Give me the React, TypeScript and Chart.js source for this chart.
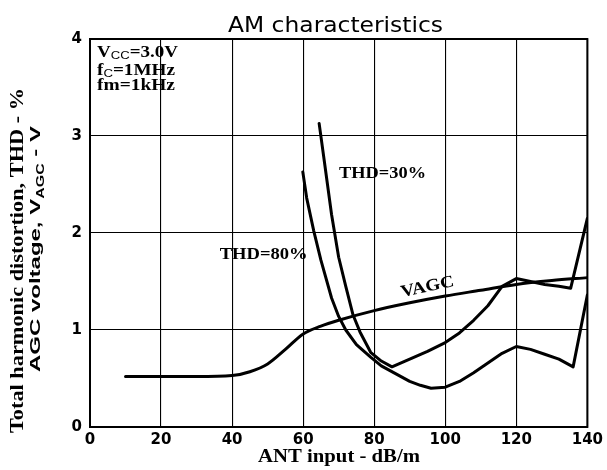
import React, { useEffect, useRef } from "react";
import { Chart, registerables } from "chart.js";

Chart.register(...registerables);

// ---- data ----
const xTickValues = [0, 20, 40, 60, 80, 100, 120, 140];
const yTickValues = [0, 1, 2, 3, 4];

const vagcX = [10, 20, 30, 40, 45, 50, 55, 60, 65, 70, 80, 90, 100, 110, 120, 130, 140];
const vagcY = [0.52, 0.52, 0.52, 0.53, 0.57, 0.65, 0.8, 0.96, 1.04, 1.1, 1.2, 1.28, 1.35, 1.41, 1.47, 1.51, 1.54];

const thd30X = [64.5, 66, 68, 70, 72, 74, 76, 79, 82, 85, 90, 95, 100, 104, 108, 112, 116, 120, 124, 128, 132, 135.3, 140];
const thd30Y = [3.13, 2.73, 2.19, 1.75, 1.45, 1.16, 0.98, 0.77, 0.68, 0.62, 0.7, 0.78, 0.87, 0.97, 1.1, 1.25, 1.45, 1.53, 1.5, 1.47, 1.45, 1.43, 2.15];

const thd80X = [59.9, 61, 63, 65, 68, 70, 72, 75, 79, 82, 86, 90, 93, 96, 100, 104, 108, 112, 116, 120, 124, 128, 132, 136, 140];
const thd80Y = [2.63, 2.36, 2.02, 1.72, 1.33, 1.14, 1.0, 0.85, 0.72, 0.63, 0.55, 0.47, 0.43, 0.4, 0.41, 0.47, 0.56, 0.66, 0.76, 0.83, 0.8, 0.75, 0.7, 0.62, 1.36];

const chartTitle = "AM characteristics";
const xTitle = "ANT input - dB/m";
const curveLabels = [
  { text: "THD=30%", x: 70.1, y: 2.57, angle: 0, width: 87 },
  { text: "THD=80%", x: 36.5, y: 1.73, angle: 0, width: 88 },
  { text: "VAGC", x: 87.8, y: 1.34, angle: -12, width: 54 },
];

const SERIF = '"Liberation Serif", "Times New Roman", serif';
const SANS = '"Liberation Sans", Arial, sans-serif';
const DEJAVU = '"DejaVu Sans", Verdana, sans-serif';

type Run = { t: string; font: string; dy?: number };

function drawRuns(
  ctx: CanvasRenderingContext2D,
  runs: Run[],
  x: number,
  y: number,
  width: number | null,
  align: "left" | "center",
  angle: number
) {
  ctx.save();
  let total = 0;
  const ws = runs.map((r) => {
    ctx.font = r.font;
    const w = ctx.measureText(r.t).width;
    total += w;
    return w;
  });
  ctx.translate(x, y);
  ctx.rotate(angle);
  const sx = width ? width / total : 1;
  ctx.scale(sx, 1);
  let cx = align === "center" ? -total / 2 : 0;
  ctx.textBaseline = "alphabetic";
  ctx.textAlign = "left";
  ctx.fillStyle = "#000";
  runs.forEach((r, i) => {
    ctx.font = r.font;
    ctx.fillText(r.t, cx, r.dy || 0);
    cx += ws[i];
  });
  ctx.restore();
}

const overlay = {
  id: "overlay",
  afterDraw(chart: any) {
    const ctx: CanvasRenderingContext2D = chart.ctx;
    const a = chart.chartArea;
    const xs = chart.scales.x;
    const ys = chart.scales.y;

    // frame
    ctx.save();
    ctx.strokeStyle = "#000";
    ctx.lineWidth = 2;
    ctx.strokeRect(a.left, a.top, a.right - a.left, a.bottom - a.top);
    ctx.restore();

    // title
    drawRuns(ctx, [{ t: chartTitle, font: `22px ${DEJAVU}` }], 335.5, 32, 215, "center", 0);

    // x title
    drawRuns(ctx, [{ t: xTitle, font: `bold 18px ${SERIF}` }], 339, 462, 162, "center", 0);

    // y title (two lines, rotated)
    drawRuns(
      ctx,
      [{ t: "Total harmonic distortion, THD - %", font: `bold 19px ${SERIF}` }],
      23,
      260.5,
      345,
      "center",
      -Math.PI / 2
    );
    drawRuns(
      ctx,
      [
        { t: "AGC voltage, V", font: `bold 15px ${SANS}` },
        { t: "AGC", font: `bold 10px ${SANS}`, dy: 4 },
        { t: " - V", font: `bold 15px ${SANS}` },
      ],
      40,
      249,
      246,
      "center",
      -Math.PI / 2
    );

    // condition note
    const nx = a.left + 7;
    drawRuns(
      ctx,
      [
        { t: "V", font: `bold 16px ${SERIF}` },
        { t: "CC", font: `11px ${SANS}`, dy: 2 },
        { t: "=3.0V", font: `bold 16px ${SERIF}` },
      ],
      nx,
      a.top + 18,
      81,
      "left",
      0
    );
    drawRuns(
      ctx,
      [
        { t: "f", font: `bold 16px ${SERIF}` },
        { t: "C", font: `11px ${SANS}`, dy: 2 },
        { t: "=1MHz", font: `bold 16px ${SERIF}` },
      ],
      nx,
      a.top + 36,
      78,
      "left",
      0
    );
    drawRuns(ctx, [{ t: "fm=1kHz", font: `bold 16px ${SERIF}` }], nx, a.top + 51, 78, "left", 0);

    // curve labels
    curveLabels.forEach((l) => {
      const px = xs.getPixelForValue(l.x);
      const py = ys.getPixelForValue(l.y);
      drawRuns(ctx, [{ t: l.text, font: `bold 17px ${SERIF}` }], px, py, l.width, "left", (l.angle * Math.PI) / 180);
    });
  },
};

function pts(xs: number[], ys: number[]) {
  return xs.map((x, i) => ({ x, y: ys[i] }));
}

export default function App() {
  const ref = useRef<HTMLCanvasElement | null>(null);

  useEffect(() => {
    document.body.style.margin = "0";
    const canvas = ref.current!;
    const lineBase = {
      borderColor: "#000",
      borderWidth: 3,
      pointRadius: 0,
      borderJoinStyle: "round" as const,
      borderCapStyle: "round" as const,
      fill: false,
    };
    const chart = new Chart(canvas, {
      type: "line",
      data: {
        datasets: [
          { ...lineBase, label: "VAGC", data: pts(vagcX, vagcY), cubicInterpolationMode: "monotone" },
          { ...lineBase, label: "THD=30%", data: pts(thd30X, thd30Y), tension: 0 },
          { ...lineBase, label: "THD=80%", data: pts(thd80X, thd80Y), tension: 0 },
        ],
      },
      options: {
        animation: false,
        responsive: false,
        events: [],
        layout: { padding: { left: 0, top: 39, right: 18, bottom: 0 } },
        plugins: {
          legend: { display: false },
          title: { display: false },
          tooltip: { enabled: false },
        },
        scales: {
          x: {
            type: "linear",
            min: 0,
            max: 140,
            afterFit: (s: any) => {
              s.height = 43;
            },
            afterBuildTicks: (s: any) => {
              s.ticks = xTickValues.map((v) => ({ value: v }));
            },
            grid: { color: "#000", lineWidth: 1.1, drawTicks: false },
            border: { display: false },
            ticks: {
              padding: 4,
              color: "#000",
              font: { family: DEJAVU, size: 15, weight: "bold" },
              maxRotation: 0,
            },
          },
          y: {
            type: "linear",
            min: 0,
            max: 4,
            afterFit: (s: any) => {
              s.width = 90;
            },
            afterBuildTicks: (s: any) => {
              s.ticks = yTickValues.map((v) => ({ value: v }));
            },
            grid: { color: "#000", lineWidth: 1.1, drawTicks: false },
            border: { display: false },
            ticks: {
              padding: 8,
              color: "#000",
              font: { family: DEJAVU, size: 15, weight: "bold" },
            },
          },
        },
      },
      plugins: [overlay],
    } as any);
    return () => chart.destroy();
  }, []);

  return (
    <div style={{ position: "absolute", left: 0, top: 0, width: 607, height: 470, background: "#fff" }}>
      <canvas ref={ref} width={607} height={470} style={{ display: "block" }} />
    </div>
  );
}
